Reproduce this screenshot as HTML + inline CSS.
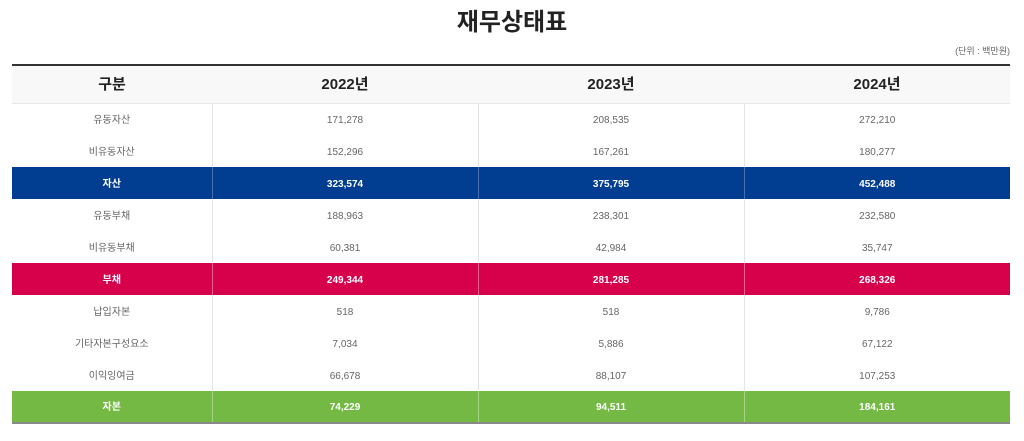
<!DOCTYPE html><html><head><meta charset="utf-8"><style>
body{margin:0;width:1024px;height:441px;background:#fff;font-family:"Liberation Sans","Noto Sans CJK KR",sans-serif;position:relative;overflow:hidden}
h1{position:absolute;top:7px;left:0;width:1024px;margin:0;text-align:center;font-size:24px;font-weight:bold;color:#222;line-height:32px}
.u{position:absolute;top:44px;right:14px;font-size:9px;color:#666}
table{position:absolute;left:12px;top:64px;width:998px;border-collapse:collapse;table-layout:fixed;border-top:2px solid #333;border-bottom:2px solid #888}
td,th{text-align:center;height:32px;padding:3px 0 0 0;box-sizing:border-box;font-size:10px;line-height:12px;vertical-align:middle;color:#666;border-left:1px solid #e4e4e4}
td:first-child,th:first-child{border-left:none}
th{height:38px;padding-top:2px;background:#f8f8f8;font-size:15px;line-height:18px;color:#222;border-left:none;border-bottom:1px solid #e8e8e8}
tr.b td{background:#013d91;color:#fff;font-weight:bold;border-left-color:#4a6fb0}
tr.r td{background:#d7004a;color:#fff;font-weight:bold;border-left-color:#e5608a}
tr.g td{background:#74b944;color:#fff;font-weight:bold;border-left-color:#a5d388}
</style></head><body>
<h1>재무상태표</h1><div class="u">(단위 : 백만원)</div>
<table><colgroup><col style="width:200px"><col style="width:266px"><col style="width:266px"><col style="width:266px"></colgroup>
<tr><th>구분</th><th>2022년</th><th>2023년</th><th>2024년</th></tr>
<tr><td>유동자산</td><td>171,278</td><td>208,535</td><td>272,210</td></tr>
<tr><td>비유동자산</td><td>152,296</td><td>167,261</td><td>180,277</td></tr>
<tr class="b"><td>자산</td><td>323,574</td><td>375,795</td><td>452,488</td></tr>
<tr><td>유동부채</td><td>188,963</td><td>238,301</td><td>232,580</td></tr>
<tr><td>비유동부채</td><td>60,381</td><td>42,984</td><td>35,747</td></tr>
<tr class="r"><td>부채</td><td>249,344</td><td>281,285</td><td>268,326</td></tr>
<tr><td>납입자본</td><td>518</td><td>518</td><td>9,786</td></tr>
<tr><td>기타자본구성요소</td><td>7,034</td><td>5,886</td><td>67,122</td></tr>
<tr><td>이익잉여금</td><td>66,678</td><td>88,107</td><td>107,253</td></tr>
<tr class="g"><td>자본</td><td>74,229</td><td>94,511</td><td>184,161</td></tr>
</table></body></html>
